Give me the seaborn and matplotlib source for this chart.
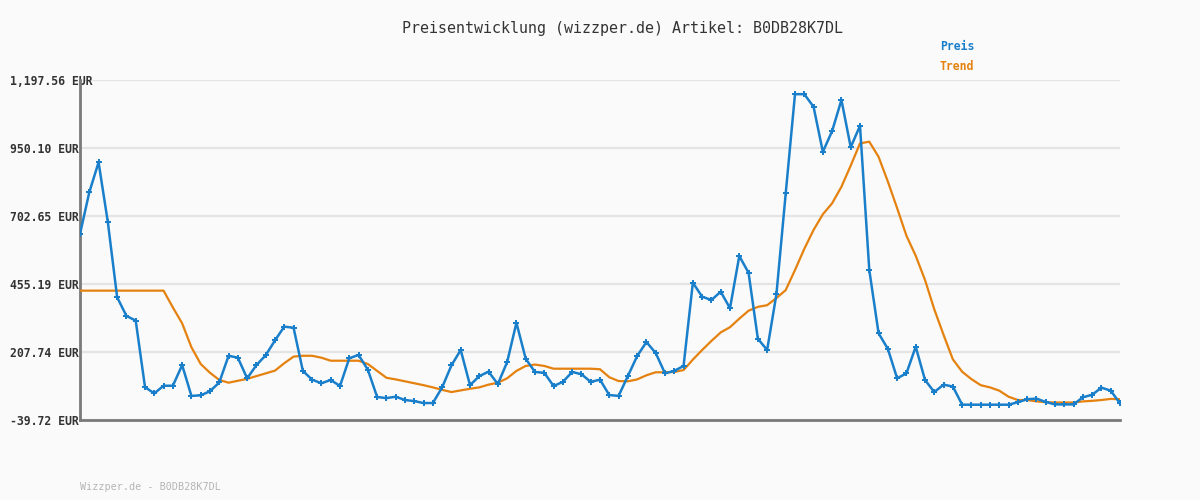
import numpy as np
import pandas as pd
import seaborn as sns
import matplotlib.pyplot as plt
from matplotlib.transforms import ScaledTranslation

# price series (EUR)
preis = [637, 789, 898, 680, 407, 339, 322, 80, 57, 85, 85, 160, 48, 50, 65, 97, 194, 187, 112, 160,
         196, 250, 300, 296, 139, 107, 94, 106, 84, 185,
         197, 143, 44, 40, 45, 33, 29, 22, 22, 79, 159, 215, 87, 120, 136, 91, 171, 314, 183, 135,
         132, 84, 99, 135, 127, 99, 107, 51, 48,
         120, 193, 244, 204, 130, 139, 157, 460, 409, 397, 427, 367, 557, 496, 256, 215, 418, 785,
         1146, 1146, 1100, 936, 1012, 1125, 953, 1031, 506, 276,
         219, 112, 130, 227, 106, 62, 89, 82, 16, 16, 16, 16, 16, 16, 25, 36, 38, 26, 17, 17, 17,
         43, 52, 78, 67, 21]

trend = [431, 431, 431, 431, 431, 431, 431, 431, 431, 431,
         370, 312, 225, 164, 132, 106, 96, 103, 110, 120, 130, 140, 167, 191, 194, 194, 187, 176, 176, 176,
         176, 164, 139, 114, 108, 101, 94, 87, 79, 70, 62, 68, 74, 79, 89, 96, 112, 139, 157, 162,
         157, 147, 147, 147, 147, 147,
         145, 116, 102, 101, 108, 123, 134, 134, 135, 142, 180, 215, 248, 279, 298, 329, 358, 372,
         378, 404, 433, 506, 583, 652, 709, 749, 809, 886, 967, 973, 918,
         828, 731, 631, 558, 470, 363, 270, 181, 136, 109, 87, 79, 67, 45, 33, 33, 28, 25, 24, 24,
         24, 28, 30, 33, 37, 36]

yticks = [-39.72, 207.74, 455.19, 702.65, 950.10, 1197.56]
ytick_labels = ["-39.72 EUR", "207.74 EUR", "455.19 EUR", "702.65 EUR", "950.10 EUR", "1,197.56 EUR"]

blue = "#1a7fca"
orange = "#e5820f"

df = pd.DataFrame({"idx": np.arange(len(preis)), "Preis": preis, "Trend": trend})

sns.set_theme(style="white")
plt.rcParams["font.family"] = ["DejaVu Sans Mono", "DejaVu Sans"]

fig = plt.figure(figsize=(12, 5), dpi=100, facecolor="#fafafa")
ax = fig.add_axes([80 / 1200, 80 / 500, 1040 / 1200, 340 / 500])
ax.set_facecolor("#fafafa")

sns.lineplot(data=df, x="idx", y="Trend", ax=ax, color=orange, linewidth=1.6, zorder=3)
sns.lineplot(data=df, x="idx", y="Preis", ax=ax, color=blue, linewidth=1.8,
             marker="P", markersize=4, markeredgewidth=0, zorder=4)

ax.set_xlim(0, len(preis) - 1)
ax.set_ylim(yticks[0], yticks[-1])
ax.set_yticks(yticks)
ax.set_yticklabels(ytick_labels, fontsize=8.3, fontweight="bold", color="#333333")
ax.set_xticks([])
ax.set_xlabel("")
ax.set_ylabel("")
ax.tick_params(axis="y", length=0, pad=1)
ax.grid(axis="y", color="#e4e4e4", linewidth=1.6, zorder=0)
ax.set_axisbelow(True)

# the top label runs over the axis line in the original
top = ax.get_yticklabels()[-1]
top.set_transform(top.get_transform() + ScaledTranslation(0.14, 0, fig.dpi_scale_trans))

for s in ["top", "right"]:
    ax.spines[s].set_visible(False)
for s in ["left", "bottom"]:
    ax.spines[s].set_color("#7a7a7a")
    ax.spines[s].set_linewidth(2)

fig.text(623 / 1200, 1 - 28 / 500, "Preisentwicklung (wizzper.de) Artikel: B0DB28K7DL",
         ha="center", va="center", fontsize=10.8, color="#333333")
fig.text(940 / 1200, 1 - 47 / 500, "Preis", ha="left", va="center", fontsize=8.3,
         fontweight="bold", color=blue)
fig.text(940 / 1200, 1 - 67 / 500, "Trend", ha="left", va="center", fontsize=8.3,
         fontweight="bold", color=orange)
fig.text(80 / 1200, 1 - 487 / 500, "Wizzper.de - B0DB28K7DL", ha="left", va="center",
         fontsize=7.3, color="#b5b5b5")

fig.savefig("out.png", dpi=100, facecolor=fig.get_facecolor())
